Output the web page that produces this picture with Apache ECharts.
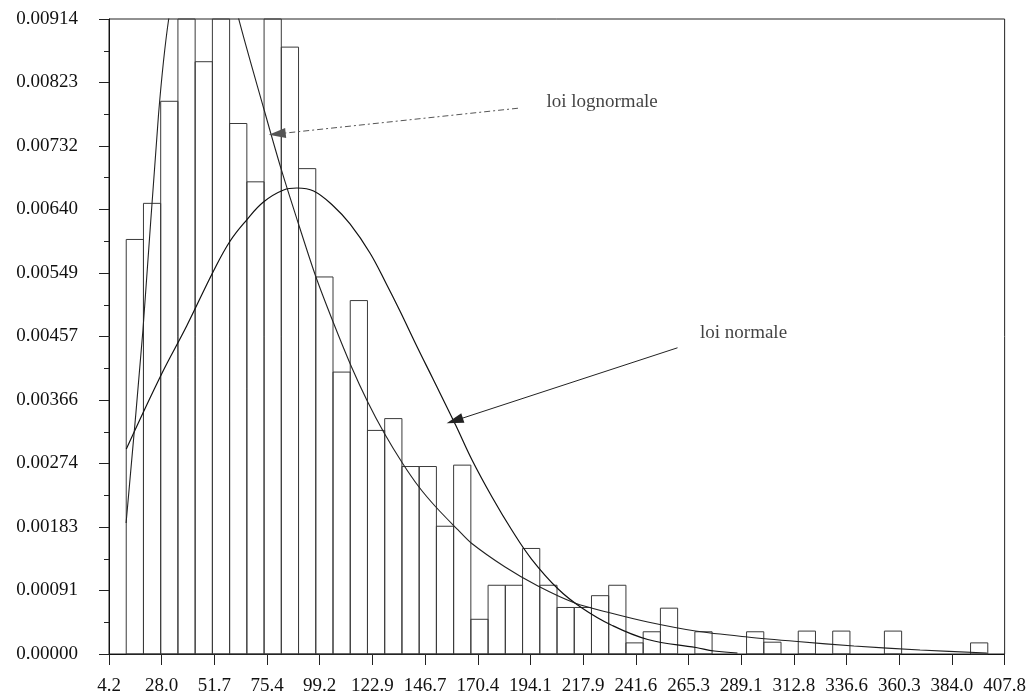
<!DOCTYPE html>
<html>
<head>
<meta charset="utf-8">
<script src="https://cdn.jsdelivr.net/npm/echarts@6/dist/echarts.min.js"></script>
<style>
html,body{margin:0;padding:0;background:#fff;}
#chart{width:1029px;height:698px;}
</style>
</head>
<body>
<div id="chart"></div>
<script>
// ---- axis ticks ----
const xTickLabels = ['4.2','28.0','51.7','75.4','99.2','122.9','146.7','170.4','194.1','217.9','241.6','265.3','289.1','312.8','336.6','360.3','384.0','407.8'];
const yTickLabels = ['0.00000','0.00091','0.00183','0.00274','0.00366','0.00457','0.00549','0.00640','0.00732','0.00823','0.00914'];
const X_FIRST = 4.2;
const X_LAST = 407.8;
const Y_MAX = 0.009145;

// ---- histogram (density per class) ----
const binStart = 4.2;
const binWidth = 7.765;
const binDensity = [
  0, 0.00597, 0.00649, 0.00796, 0.0102, 0.00853, 0.0108, 0.00764, 0.0068, 0.0098,
  0.00874, 0.00699, 0.00543, 0.00406, 0.00509, 0.00322, 0.00339, 0.00270, 0.00270, 0.00184,
  0.00272, 0.00050, 0.00099, 0.00099, 0.00152, 0.00099, 0.00067, 0.00067, 0.00084, 0.00099,
  0.00016, 0.00032, 0.00066, 0, 0.00032, 0, 0, 0.00032, 0.00017, 0,
  0.00033, 0, 0.00033, 0, 0, 0.00033, 0, 0, 0, 0,
  0.00016
];

// ---- fitted curves ----
const normalX = [12.0, 27.9, 39.2, 51.3, 58.8, 66.2, 73.8, 82.9, 88.9, 96.4, 105.3, 112.8, 121.8, 129.2, 135.1, 143.3, 150.0, 160.4, 167.8, 176.8, 185.7, 194.6, 206.6, 217.0, 230.5, 247.0, 268.7, 276.9, 287.4];
const normalY = [0.002952, 0.004033, 0.004724, 0.005516, 0.005948, 0.006250, 0.006510, 0.006683, 0.006711, 0.006668, 0.006452, 0.006193, 0.005775, 0.005329, 0.004954, 0.004407, 0.003975, 0.003298, 0.002794, 0.002261, 0.001786, 0.001368, 0.000936, 0.000670, 0.000418, 0.000209, 0.0000936, 0.0000432, 0.0000144];

const lognormalX = [11.9, 19.5, 26.5, 31.1, 37.9, 46.9, 54.5, 62.2, 74.0, 81.9, 89.6, 97.3, 105.2, 113.3, 120.8, 128.2, 136.4, 143.9, 151.5, 161.5, 167.4, 182.7, 197.5, 214.1, 230.3, 247.0, 268.5, 291.9, 314.4, 339.9, 369.7, 399.8];
const lognormalY = [0.001887, 0.004666, 0.007763, 0.009145, 0.010283, 0.010787, 0.010283, 0.009203, 0.007849, 0.006971, 0.006193, 0.005444, 0.004781, 0.004148, 0.003629, 0.003183, 0.002751, 0.002405, 0.002117, 0.001786, 0.001599, 0.001253, 0.000979, 0.000735, 0.000590, 0.000461, 0.000331, 0.000245, 0.000180, 0.000115, 0.0000576, 0.0000144];

// ---- annotations ----
const annotationNames = ['loi lognormale', 'loi normale'];
const annotationText = [[201.1, 0.00795], [270.3, 0.00462]];
const arrowFrom = [[188.5, 0.00786], [260.4, 0.00441]];
const arrowTo = [[80.0, 0.00749], [160.0, 0.00336]];

// ---- build ----
const sx = v => v - X_FIRST;  // axis runs from the first tick
const xSpan = X_LAST - X_FIRST;
const xInterval = xSpan / 17;
const yInterval = Y_MAX / 10;
const FONT = "'Liberation Serif', 'DejaVu Serif', serif";

const barData = binDensity.map((v, i) => [sx(binStart + i * binWidth), sx(binStart + (i + 1) * binWidth), v]);
const normalData = normalX.map((x, i) => [sx(x), normalY[i]]);
const lognormalData = lognormalX.map((x, i) => [sx(x), lognormalY[i]]);

const chart = echarts.init(document.getElementById('chart'), null, {renderer: 'canvas'});
chart.setOption({
  animation: false,
  backgroundColor: '#ffffff',
  grid: {left: 109, right: 21, top: 19, bottom: 44, show: true, borderColor: '#222', borderWidth: 1, backgroundColor: 'transparent'},
  xAxis: {
    type: 'value', min: 0, max: xSpan, interval: xInterval,
    axisLine: {show: true, onZero: false, lineStyle: {color: '#111', width: 1}},
    axisTick: {show: true, inside: false, length: 11, lineStyle: {color: '#222'}},
    splitLine: {show: false},
    axisLabel: {
      margin: 23, color: '#111', fontFamily: FONT, fontSize: 19,
      formatter: v => xTickLabels[Math.round(v / xInterval)] || ''
    }
  },
  yAxis: {
    type: 'value', min: 0, max: Y_MAX, interval: yInterval,
    axisLine: {show: true, lineStyle: {color: '#111', width: 1}},
    axisTick: {show: true, inside: false, length: 10, lineStyle: {color: '#222'}},
    minorTick: {show: true, splitNumber: 2, length: 5, lineStyle: {color: '#222'}},
    splitLine: {show: false},
    minorSplitLine: {show: false},
    axisLabel: {
      margin: 31, color: '#111', fontFamily: FONT, fontSize: 19,
      formatter: v => yTickLabels[Math.round(v / yInterval)] || ''
    }
  },
  series: [
    {
      type: 'custom',
      name: 'histogramme',
      data: barData,
      encode: {x: [0, 1], y: 2},
      renderItem: function (params, api) {
        const v = api.value(2);
        if (!v) return null;
        const p0 = api.coord([api.value(0), v]);
        const p1 = api.coord([api.value(1), 0]);
        const cs = params.coordSys;
        const rect = echarts.graphic.clipRectByRect(
          {x: p0[0], y: p0[1], width: p1[0] - p0[0], height: p1[1] - p0[1]},
          {x: cs.x, y: cs.y, width: cs.width, height: cs.height}
        );
        if (!rect) return null;
        return {type: 'rect', shape: rect, style: {fill: 'none', stroke: '#3a3a3a', lineWidth: 1}};
      },
      z: 2
    },
    {
      type: 'line', name: 'loi normale', data: normalData,
      showSymbol: false, smooth: 0.4, clip: true,
      lineStyle: {color: '#111', width: 1.2},
      z: 3,
      markLine: {
        silent: true, animation: false,
        label: {show: false},
        lineStyle: {color: '#222', width: 1, type: 'solid'},
        data: [[
          {coord: [sx(arrowFrom[1][0]), arrowFrom[1][1]], symbol: 'none'},
          {coord: [sx(arrowTo[1][0]), arrowTo[1][1]], symbol: 'triangle', symbolSize: [10, 17]}
        ]]
      }
    },
    {
      type: 'line', name: 'loi lognormale', data: lognormalData,
      showSymbol: false, smooth: 0.3, clip: true,
      lineStyle: {color: '#222', width: 1.1},
      z: 3,
      markLine: {
        silent: true, animation: false,
        label: {show: false},
        lineStyle: {color: '#555', width: 1, type: [6, 3, 2, 3]},
        data: [[
          {coord: [sx(arrowFrom[0][0]), arrowFrom[0][1]], symbol: 'none'},
          {coord: [sx(arrowTo[0][0]), arrowTo[0][1]], symbol: 'triangle', symbolSize: [10, 17]}
        ]]
      }
    },
    {
      type: 'scatter', name: 'annotations',
      data: annotationNames.map((n, i) => ({name: n, value: [sx(annotationText[i][0]), annotationText[i][1]]})),
      symbolSize: 1,
      itemStyle: {color: 'rgba(0,0,0,0)'},
      label: {show: true, position: 'right', distance: 0, formatter: '{b}', color: '#111', fontFamily: FONT, fontSize: 19},
      silent: true,
      z: 4
    }
  ]
});
</script>
</body>
</html>
